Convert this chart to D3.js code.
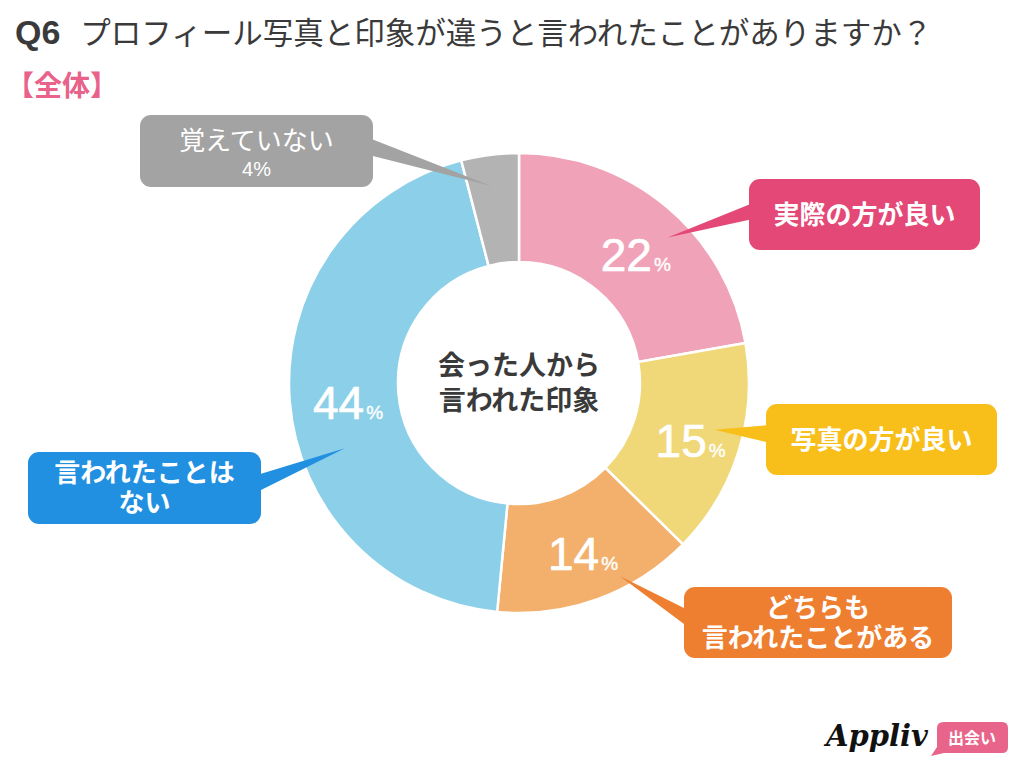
<!DOCTYPE html>
<html>
<head>
<meta charset="utf-8">
<script src="https://cdn.jsdelivr.net/npm/d3@7"></script>
<style>
  body { margin: 0; background: #fff; }
  svg { display: block; }
</style>
</head>
<body>
<div id="chart"></div>
<script>
// データ
var categories = ["実際の方が良い", "写真の方が良い", "どちらも言われたことがある", "言われたことはない", "覚えていない"];
var values = [22, 15, 14, 44, 4];
var sliceColors = ["#F0A2B8", "#F0D878", "#F2B06C", "#8BD0E8", "#B3B3B3"];
var calloutColors = ["#E44876", "#F8BE1A", "#EE7E30", "#2190E0", "#A3A3A3"];
var calloutLines = [["実際の方が良い"], ["写真の方が良い"], ["どちらも", "言われたことがある"], ["言われたことは", "ない"], ["覚えていない"]];

var title_q = "Q6";
var title_text = "プロフィール写真と印象が違うと言われたことがありますか？";
var subtitle = "【全体】";
var centerLines = ["会った人から", "言われた印象"];

// レイアウト
var w = 1024, h = 768;
var cx = 519, cy = 383;
var r_out = 230, r_in = 121;
var font_jp = "'Noto Sans CJK JP', 'Noto Sans', sans-serif";
var font_num = "'Liberation Sans', Arial, sans-serif";

// 吹き出しの位置 (box: x, y, w, h / base: y0, y1 on box side / t: position in slice, tr: radius of tip)
var callouts = [
  {x: 749, y: 179, w: 231, h: 71, side: "left", b0: 203, b1: 219, t: 0.57, tr: 208},
  {x: 766, y: 404, w: 231, h: 71, side: "left", b0: 425, b1: 443, t: 0.43, tr: 201},
  {x: 684, y: 587, w: 268, h: 71, side: "left", b0: 610, b1: 627, t: 0.35, tr: 218},
  {x: 28, y: 452, w: 233, h: 72, side: "right", b0: 475, b1: 492, t: 0.40, tr: 186},
  {x: 140, y: 115, w: 233, h: 72, side: "right", b0: 138, b1: 155, t: 0.45, tr: 199}
];

var svg = d3.select("#chart").append("svg")
  .attr("width", w)
  .attr("height", h);

// タイトル
var title = svg.append("text")
  .attr("x", 15)
  .attr("y", 44)
  .attr("fill", "#3a3a3a")
  .style("font-family", font_jp)
  .style("font-size", "30.5px");
title.append("tspan").attr("font-weight", "bold").style("font-family", font_num).style("font-size", "34px").text(title_q);
title.append("tspan").attr("dx", 20).text(title_text);

svg.append("text")
  .attr("x", 6)
  .attr("y", 96)
  .attr("fill", "#E8628A")
  .attr("font-weight", "bold")
  .style("font-family", font_jp)
  .style("font-size", "28px")
  .text(subtitle);

// ドーナツ
var pie = d3.pie().sort(null).value(function(d) { return d; });
var arcs = pie(values);

var arc = d3.arc().innerRadius(r_in).outerRadius(r_out);

var g = svg.append("g").attr("transform", "translate(" + cx + "," + cy + ")");

g.selectAll("path.slice")
  .data(arcs)
  .enter()
  .append("path")
  .attr("class", "slice")
  .attr("d", arc)
  .attr("fill", function(d, i) { return sliceColors[i]; })
  .attr("stroke", "#fff")
  .attr("stroke-width", 2.5);

// パーセント
var labelArc = d3.arc().innerRadius((r_in + r_out) / 2).outerRadius((r_in + r_out) / 2);
var pct = g.selectAll("text.pct")
  .data(arcs.filter(function(d) { return d.value >= 10; }))
  .enter()
  .append("text")
  .attr("class", "pct")
  .attr("transform", function(d) {
    var c = labelArc.centroid(d);
    return "translate(" + (c[0] + 4) + "," + (c[1] + 22) + ")";
  })
  .attr("text-anchor", "middle")
  .attr("fill", "#fff")
  .attr("stroke", "#fff")
  .style("font-family", font_num);
pct.append("tspan").style("font-size", "46px").attr("stroke-width", 0.7).text(function(d) { return d.value; });
pct.append("tspan").style("font-size", "19px").attr("stroke-width", 0.4).attr("dx", 2).text("%");

// 中央テキスト
g.selectAll("text.center")
  .data(centerLines)
  .enter()
  .append("text")
  .attr("class", "center")
  .attr("x", 0)
  .attr("y", function(d, i) { return -8 + i * 35; })
  .attr("text-anchor", "middle")
  .attr("fill", "#3a3a3a")
  .attr("font-weight", "bold")
  .style("font-family", font_jp)
  .style("font-size", "27px")
  .text(function(d) { return d; });

// 吹き出し
callouts.forEach(function(c, i) {
  var a = arcs[i];
  var ang = a.startAngle + c.t * (a.endAngle - a.startAngle);
  var tip = [cx + c.tr * Math.sin(ang), cy - c.tr * Math.cos(ang)];
  var bx = c.side == "left" ? c.x + 4 : c.x + c.w - 4;
  svg.append("path")
    .attr("d", "M" + bx + "," + c.b0 + "L" + tip[0] + "," + tip[1] + "L" + bx + "," + c.b1 + "Z")
    .attr("fill", calloutColors[i]);
  svg.append("rect")
    .attr("x", c.x).attr("y", c.y)
    .attr("width", c.w).attr("height", c.h)
    .attr("rx", 11).attr("ry", 11)
    .attr("fill", calloutColors[i]);

  var lines = calloutLines[i];
  var midY = c.y + c.h / 2;
  if (i == 4) {
    // 覚えていない + 4%
    svg.append("text")
      .attr("x", c.x + c.w / 2).attr("y", c.y + 35)
      .attr("text-anchor", "middle").attr("fill", "#fff")
      .style("font-family", font_jp).style("font-size", "26px")
      .text(lines[0]);
    svg.append("text")
      .attr("x", c.x + c.w / 2).attr("y", c.y + 61)
      .attr("text-anchor", "middle").attr("fill", "#fff")
      .style("font-family", font_num).style("font-size", "20px")
      .text(values[i] + "%");
    return;
  }
  var lh = 30;
  lines.forEach(function(t, k) {
    svg.append("text")
      .attr("x", c.x + c.w / 2)
      .attr("y", midY + (k - (lines.length - 1) / 2) * lh + 9)
      .attr("text-anchor", "middle")
      .attr("fill", "#fff")
      .attr("font-weight", "bold")
      .style("font-family", font_jp)
      .style("font-size", "26px")
      .text(t);
  });
});

// ロゴ
svg.append("text")
  .attr("x", 826)
  .attr("y", 746)
  .attr("fill", "#111")
  .attr("font-weight", "bold")
  .attr("font-style", "italic")
  .style("font-family", "'DejaVu Serif', serif")
  .style("font-size", "29px")
  .text("Appliv");
svg.append("path")
  .attr("d", "M944,722 H1002 Q1008,722 1008,728 V747 Q1008,753 1002,753 H944 L931,756 L937,747 V728 Q937,722 944,722 Z")
  .attr("fill", "#E8648A");
svg.append("text")
  .attr("x", 972)
  .attr("y", 744)
  .attr("text-anchor", "middle")
  .attr("fill", "#fff")
  .attr("font-weight", "bold")
  .style("font-family", font_jp)
  .style("font-size", "16px")
  .text("出会い");
</script>
</body>
</html>
